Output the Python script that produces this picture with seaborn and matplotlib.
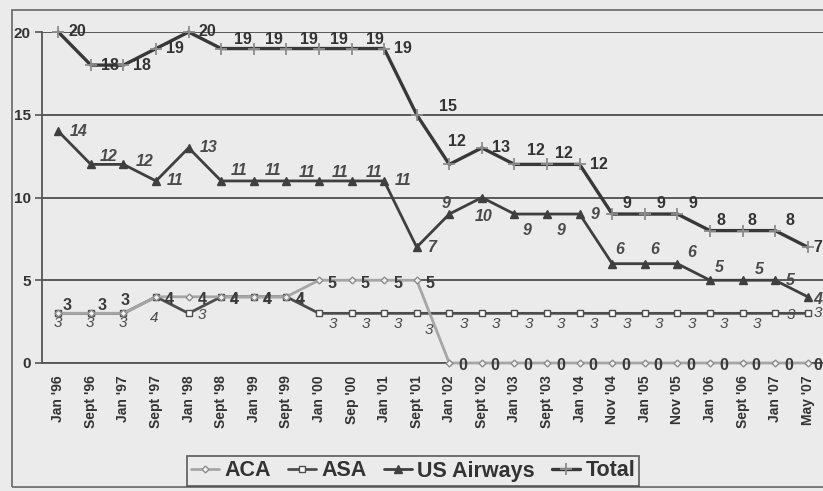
import numpy as np
import pandas as pd
import seaborn as sns
import matplotlib.pyplot as plt
from matplotlib.patches import Rectangle

# Data
months = ["Jan '96", "Sept '96", "Jan '97", "Sept '97", "Jan '98", "Sept '98",
          "Jan '99", "Sept '99", "Jan '00", "Sep '00", "Jan '01", "Sept '01",
          "Jan '02", "Sept '02", "Jan '03", "Sept '03", "Jan '04", "Nov '04",
          "Jan '05", "Nov '05", "Jan '06", "Sept '06", "Jan '07", "May '07"]
aca = [3, 3, 3, 4, 4, 4, 4, 4, 5, 5, 5, 5, 0, 0, 0, 0, 0, 0, 0, 0, 0, 0, 0, 0]
asa = [3, 3, 3, 4, 3, 4, 4, 4, 3, 3, 3, 3, 3, 3, 3, 3, 3, 3, 3, 3, 3, 3, 3, 3]
us_airways = [14, 12, 12, 11, 13, 11, 11, 11, 11, 11, 11, 7, 9, 10, 9, 9, 9, 6, 6, 6, 5, 5, 5, 4]
total = [20, 18, 18, 19, 20, 19, 19, 19, 19, 19, 19, 15, 12, 13, 12, 12, 12, 9, 9, 9, 8, 8, 8, 7]
series_names = ['ACA', 'ASA', 'US Airways', 'Total']

df = pd.DataFrame({'pos': np.arange(len(months)), 'month': months,
                   'ACA': aca, 'ASA': asa, 'US Airways': us_airways, 'Total': total})
long_df = df.melt(id_vars=['pos', 'month'], var_name='carrier', value_name='count')

bg = '#ebebeb'
sns.set_theme(style='white')
plt.rcParams['font.family'] = ['Liberation Sans', 'DejaVu Sans']

line_styles = {
    'ACA': dict(color='#a6a6a6', marker='D', ms=3.5, mfc='#f2f2f2', mec='#8c8c8c', mew=1, lw=2, zorder=4),
    'ASA': dict(color='#4d4d4d', marker='s', ms=5, mfc='white', mec='#4d4d4d', mew=1, lw=2, zorder=3),
    'US Airways': dict(color='#3f3f3f', marker='^', ms=6, mfc='#3f3f3f', mec='#3f3f3f', mew=1, lw=2, zorder=3),
    'Total': dict(color='#383838', marker='+', ms=8, mec='#8c8c8c', mew=1.3, lw=2.4, zorder=3),
}

# data label look, default offset (pixels) and per-point nudges
label_styles = {
    'ACA': dict(fontweight='bold', fontstyle='normal', color='#3a3a3a', fontsize=11.5, zorder=6),
    'ASA': dict(fontweight='normal', fontstyle='italic', color='#4a4a4a', fontsize=11, zorder=5),
    'US Airways': dict(fontweight='bold', fontstyle='italic', color='#4a4a4a', fontsize=11.5, zorder=5),
    'Total': dict(fontweight='bold', fontstyle='normal', color='#333333', fontsize=11.5, zorder=5),
}
default_offset = {'ACA': (9, -3), 'ASA': (10, -11), 'US Airways': (11, 0), 'Total': (10, 0)}
nudges = {
    'ACA': {0: (4, 8), 1: (7, 8), 2: (-3, 13), 23: (6, -3)},
    'ASA': {0: (-5, -10), 1: (-5, -10), 2: (-5, -10), 3: (-6, -21), 4: (9, -2),
            5: (9, -3), 6: (9, -3), 7: (9, -3), 11: (8, -17), 22: (12, -2), 23: (6, 0)},
    'US Airways': {1: (9, 8), 2: (12, 3), 5: (10, 10), 6: (11, 10), 7: (12, 8), 8: (13, 8),
                   9: (14, 8), 12: (-8, 11), 13: (-7, -19), 14: (8, -16), 15: (10, -16),
                   17: (3, 14), 18: (5, 14), 19: (10, 11), 20: (5, 13), 21: (12, 11), 23: (6, -3)},
    'Total': {5: (13, 9), 6: (11, 9), 7: (14, 9), 8: (11, 9), 9: (14, 9), 11: (22, 8),
              12: (-1, 23), 14: (13, 14), 15: (8, 11), 17: (10, 11), 18: (12, 11),
              19: (11, 11), 20: (7, 10), 21: (5, 10), 22: (10, 10), 23: (6, 0)},
}

fig, ax = plt.subplots(figsize=(8.23, 4.91), dpi=100)
fig.patch.set_facecolor(bg)
ax.set_facecolor(bg)
ax.set_position([42 / 823, 1 - 363 / 491, 782 / 823, 331 / 491])

for name in series_names:
    sub = long_df[long_df['carrier'] == name]
    sns.lineplot(data=sub, x='pos', y='count', ax=ax, label=name,
                 clip_on=False, **line_styles[name])

for name in series_names:
    sub = long_df[long_df['carrier'] == name]
    for p, v in zip(sub['pos'], sub['count']):
        dx, dy = nudges[name].get(p, default_offset[name])
        ax.annotate(str(v), (p, v), xytext=(dx, dy), textcoords='offset pixels',
                    ha='left', va='center', annotation_clip=False, **label_styles[name])

ax.set_xlim(-0.5, 23.5)
ax.set_ylim(0, 20)
ax.set_yticks([0, 5, 10, 15, 20])
ax.set_yticklabels(['0', '5', '10', '15', '20'], fontweight='bold', fontsize=11, color='#333333')
ax.set_xticks(np.arange(len(months)))
ax.set_xticklabels(months, rotation=90, fontweight='bold', fontsize=10, color='#333333')
ax.set_xticks(np.arange(-0.5, len(months), 1), minor=True)
ax.tick_params(axis='x', which='major', length=0, pad=9)
ax.tick_params(axis='x', which='minor', length=5, width=1.2, color='#555555', direction='out')
ax.tick_params(axis='y', length=5, width=1.2, color='#555555', direction='out', pad=3, left=True)
ax.set_xlabel('')
ax.set_ylabel('')
ax.yaxis.grid(True, color='#4d4d4d', lw=1.3)
ax.set_axisbelow(True)
for side in ['top', 'right']:
    ax.spines[side].set_visible(False)
for side in ['left', 'bottom']:
    ax.spines[side].set_color('#555555')
    ax.spines[side].set_linewidth(1.3)

handles, labels = ax.get_legend_handles_labels()
ax.legend_.remove()
leg = fig.legend(handles, labels, loc='center', bbox_to_anchor=(413 / 823, 1 - 471 / 491),
                 ncol=4, frameon=True, fancybox=False, handlelength=1.3, handletextpad=0.25,
                 columnspacing=0.8, borderpad=0.2, prop=dict(weight='bold', size=15.5))
leg.get_frame().set_edgecolor('#444444')
leg.get_frame().set_linewidth(1.3)
leg.get_frame().set_facecolor(bg)
for t in leg.get_texts():
    t.set_color('#333333')

# outer chart border
fig.add_artist(Rectangle((12 / 823, 4 / 491), 1.0, 1 - 14 / 491, transform=fig.transFigure,
                         fill=False, edgecolor='#666666', lw=1.2))

fig.savefig('out.png', dpi=100, facecolor=bg)
